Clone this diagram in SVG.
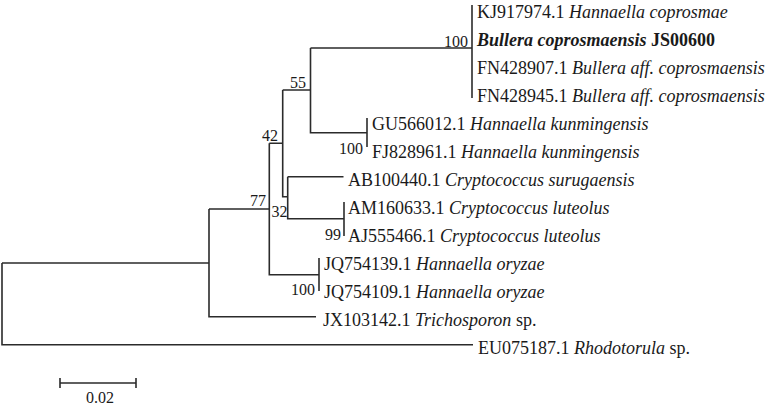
<svg xmlns="http://www.w3.org/2000/svg" width="773" height="407" viewBox="0 0 773 407">
<style>
.br{fill:none;stroke:#2b2b2b;stroke-width:1.6;stroke-linecap:butt}
.tip{font-family:"Liberation Serif","Times New Roman",serif;font-size:18px;fill:#1a1a1a}
.bs{font-family:"Liberation Serif","Times New Roman",serif;font-size:16px;fill:#1a1a1a}
.it{font-style:italic}
.bd{font-weight:bold}
</style>
<rect width="773" height="407" fill="#ffffff"/>
<g id="connectors">
<path class="br" d="M2,263 V344.7 H473 M2,263 H209"/>
<path class="br" d="M209,209 V316.7 H316 M209,209 H269.3"/>
<path class="br" d="M269.3,143.3 V274.7 H319 M269.3,143.3 H282.7"/>
<path class="br" d="M319,258 V291"/>
<path class="br" d="M282.7,90 V196.7 H287.7 M282.7,90 H310.5"/>
<path class="br" d="M287.7,176.7 V218.7 H344 M287.7,176.7 H343.5"/>
<path class="br" d="M344,202 V236"/>
<path class="br" d="M310.5,48 V132.7 H367 M310.5,48 H472"/>
<path class="br" d="M367,118 V147"/>
<path class="br" d="M472,5 V98"/>
<path class="br" d="M60,383 H136 M60,378 V388 M136,378 V388"/>
</g>
<g id="bootstrap">
<text class="bs" x="468" y="47" text-anchor="end">100</text>
<text class="bs" x="306" y="88" text-anchor="end">55</text>
<text class="bs" x="278" y="141" text-anchor="end">42</text>
<text class="bs" x="266" y="206" text-anchor="end">77</text>
<text class="bs" x="271.5" y="216.5">32</text>
<text class="bs" x="363" y="154" text-anchor="end">100</text>
<text class="bs" x="341" y="240" text-anchor="end">99</text>
<text class="bs" x="315" y="295" text-anchor="end">100</text>
</g>
<g id="tip-KJ917974"><text class="tip" x="477" y="18.2">KJ917974.1 <tspan class="it">Hannaella coprosmae</tspan></text></g>
<g id="tip-JS00600"><text class="tip bd" x="477" y="46.2"><tspan class="it">Bullera coprosmaensis</tspan> JS00600</text></g>
<g id="tip-FN428907"><text class="tip" x="477" y="74.2">FN428907.1 <tspan class="it">Bullera aff. coprosmaensis</tspan></text></g>
<g id="tip-FN428945"><text class="tip" x="477" y="102.2">FN428945.1 <tspan class="it">Bullera aff. coprosmaensis</tspan></text></g>
<g id="tip-GU566012"><text class="tip" x="372" y="130.2">GU566012.1 <tspan class="it">Hannaella kunmingensis</tspan></text></g>
<g id="tip-FJ828961"><text class="tip" x="372" y="158.2">FJ828961.1 <tspan class="it">Hannaella kunmingensis</tspan></text></g>
<g id="tip-AB100440"><text class="tip" x="348" y="186.2">AB100440.1 <tspan class="it">Cryptococcus surugaensis</tspan></text></g>
<g id="tip-AM160633"><text class="tip" x="348" y="214.2">AM160633.1 <tspan class="it">Cryptococcus luteolus</tspan></text></g>
<g id="tip-AJ555466"><text class="tip" x="348" y="242.2">AJ555466.1 <tspan class="it">Cryptococcus luteolus</tspan></text></g>
<g id="tip-JQ754139"><text class="tip" x="324" y="270.2">JQ754139.1 <tspan class="it">Hannaella oryzae</tspan></text></g>
<g id="tip-JQ754109"><text class="tip" x="324" y="298.2">JQ754109.1 <tspan class="it">Hannaella oryzae</tspan></text></g>
<g id="tip-JX103142"><text class="tip" x="323" y="326.2">JX103142.1 <tspan class="it">Trichosporon</tspan> sp.</text></g>
<g id="tip-EU075187"><text class="tip" x="478" y="354.2">EU075187.1 <tspan class="it">Rhodotorula</tspan> sp.</text></g>
<g id="scale"><text class="bs" x="100" y="403" text-anchor="middle">0.02</text></g>
</svg>
